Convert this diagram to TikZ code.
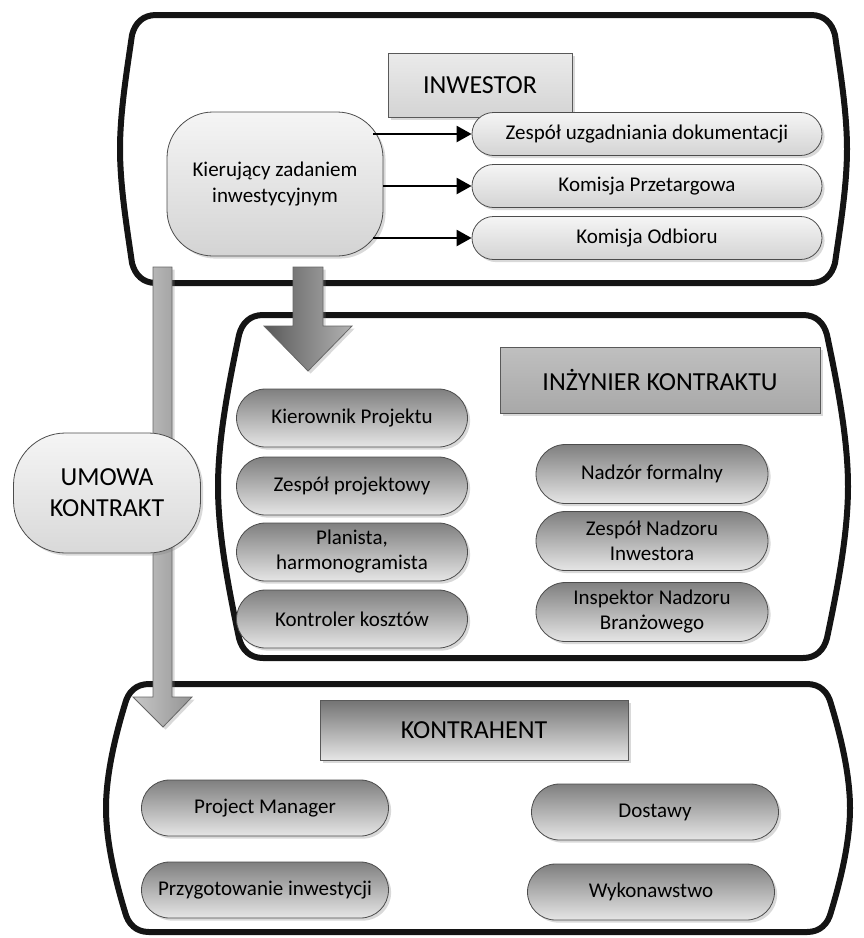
\documentclass[tikz,border=0pt]{standalone}
\usepackage{fontspec}
\setmainfont{Carlito}
\usetikzlibrary{arrows.meta, shapes.misc, shadows, positioning}

\begin{document}
\begin{tikzpicture}[x=0.5pt, y=-0.5pt]
	\tikzstyle{frame}=[line width=3pt, black!92]
	\tikzstyle{dropshade}=[drop shadow={shadow xshift=1.3pt, shadow yshift=-1.3pt, opacity=0.3}]
	\tikzstyle{headbox}=[rectangle, draw=black!65, dropshade, inner sep=0pt, font=\fontsize{13}{15}\selectfont]
	\tikzstyle{lightpill}=[rounded rectangle, draw=black!70, dropshade, top color=black!4, bottom color=black!17, minimum width=175pt, minimum height=21.5pt, inner sep=0pt, font=\fontsize{10.5}{12.5}\selectfont]
	\tikzstyle{darkpill}=[rounded rectangle, draw=black!70, dropshade, top color=black!50, bottom color=black!10, minimum height=29pt, inner sep=0pt, align=center, font=\fontsize{10.5}{12.5}\selectfont]
	\tikzstyle{bigarrow}=[draw=black!60, dropshade]
	\tikzstyle{link}=[line width=1.2pt, -{Triangle[length=7.5pt, width=8pt]}]
	\useasboundingbox (0,0) rectangle (863,938);

	% Frames
	\foreach \xa/\ya/\xb/\yb/\d in {120/15/847/283/18, 218/315/848/658/27, 106/684/850/932/25} {
		\pgfmathsetmacro\hh{(\yb-\ya)/2}
		\draw[frame] ({\xa+\d+18},\ya) -- ({\xb-\d-18},\ya)
			.. controls ({\xb-\d-5},\ya) and ({\xb-\d+3},{\ya+8}) .. ({\xb-\d+6},{\ya+20})
			.. controls ({\xb-\d*0.4},{\ya+0.4*\hh}) and (\xb,{\ya+0.72*\hh}) .. (\xb,{\ya+\hh})
			.. controls (\xb,{\yb-0.72*\hh}) and ({\xb-\d*0.4},{\yb-0.4*\hh}) .. ({\xb-\d+6},{\yb-20})
			.. controls ({\xb-\d+3},{\yb-8}) and ({\xb-\d-5},\yb) .. ({\xb-\d-18},\yb)
			-- ({\xa+\d+18},\yb)
			.. controls ({\xa+\d+5},\yb) and ({\xa+\d-3},{\yb-8}) .. ({\xa+\d-6},{\yb-20})
			.. controls ({\xa+\d*0.4},{\yb-0.4*\hh}) and (\xa,{\yb-0.72*\hh}) .. (\xa,{\ya+\hh})
			.. controls (\xa,{\ya+0.72*\hh}) and ({\xa+\d*0.4},{\ya+0.4*\hh}) .. ({\xa+\d-6},{\ya+20})
			.. controls ({\xa+\d-3},{\ya+8}) and ({\xa+\d+5},\ya) .. cycle;
	}

	% Big arrows
	\draw[bigarrow, left color=black!22, right color=black!42] (153,267) -- (172,267) -- (172,697) -- (192,697) -- (163,727) -- (133,697) -- (153,697) -- cycle;
	\draw[bigarrow, left color=black!65, right color=black!30] (293,267) -- (323,267) -- (323,326) -- (352,326) -- (308,371) -- (264,326) -- (293,326) -- cycle;

	% Inwestor
	\node[headbox, top color=black!8, bottom color=black!17, minimum width=92pt, minimum height=32pt] (inw) at (480,85) {INWESTOR};
	\node[rectangle, rounded corners=23pt, draw=black!70, dropshade, top color=black!4, bottom color=black!17, minimum width=108pt, minimum height=72pt, align=center, font=\fontsize{10.5}{13}\selectfont] (kier) at (275,184) {Kierujący zadaniem\\inwestycyjnym};
	\foreach \y/\name/\txt in {134/zu/Zespół uzgadniania dokumentacji, 186/kp/Komisja Przetargowa, 238/ko/Komisja Odbioru}
		\node[lightpill] (\name) at (647,\y) {\txt};

	% Umowa
	\node[rectangle, rounded corners=26pt, draw=black!70, dropshade, top color=black!4, bottom color=black!15, minimum width=93.5pt, minimum height=60pt, align=center, font=\fontsize{13}{15.5}\selectfont] (umowa) at (107,493) {UMOWA\\KONTRAKT};

	% Inzynier kontraktu
	\node[headbox, top color=black!25, bottom color=black!34, minimum width=160pt, minimum height=33pt] (ik) at (660,380) {INŻYNIER KONTRAKTU};
	\foreach \y/\name/\txt in {418/kpr/Kierownik Projektu, 486/zp/Zespół projektowy, 552/pl/{Planista,\\harmonogramista}, 619/kk/Kontroler kosztów}
		\node[darkpill, minimum width=115.5pt] (\name) at (352,\y) {\txt};
	\foreach \y/\name/\txt in {474/nf/Nadzór formalny, 541/zn/{Zespół Nadzoru\\Inwestora}, 612/inb/{Inspektor Nadzoru\\Branżowego}}
		\node[darkpill, minimum width=116pt, minimum height=29.5pt] (\name) at (652,\y) {\txt};

	% Kontrahent
	\node[headbox, top color=black!55, bottom color=black!10, minimum width=154pt, minimum height=30pt] (kon) at (474,730) {KONTRAHENT};
	\foreach \x/\y/\name/\txt in {265/808/pm/Project Manager, 265/890/pi/Przygotowanie inwestycji, 655/812/ds/Dostawy, 651/892/wk/Wykonawstwo}
		\node[darkpill, minimum width=123.5pt, minimum height=28pt] (\name) at (\x,\y) {\txt};

	% Kierujacy -> zespoly
	\draw[link, shorten <=-5pt] (kier.east |- zu.west) -- (zu.west);
	\draw[link] (kier.east |- kp.west) -- (kp.west);
	\draw[link, shorten <=-5pt] (kier.east |- ko.west) -- (ko.west);
\end{tikzpicture}
\end{document}
